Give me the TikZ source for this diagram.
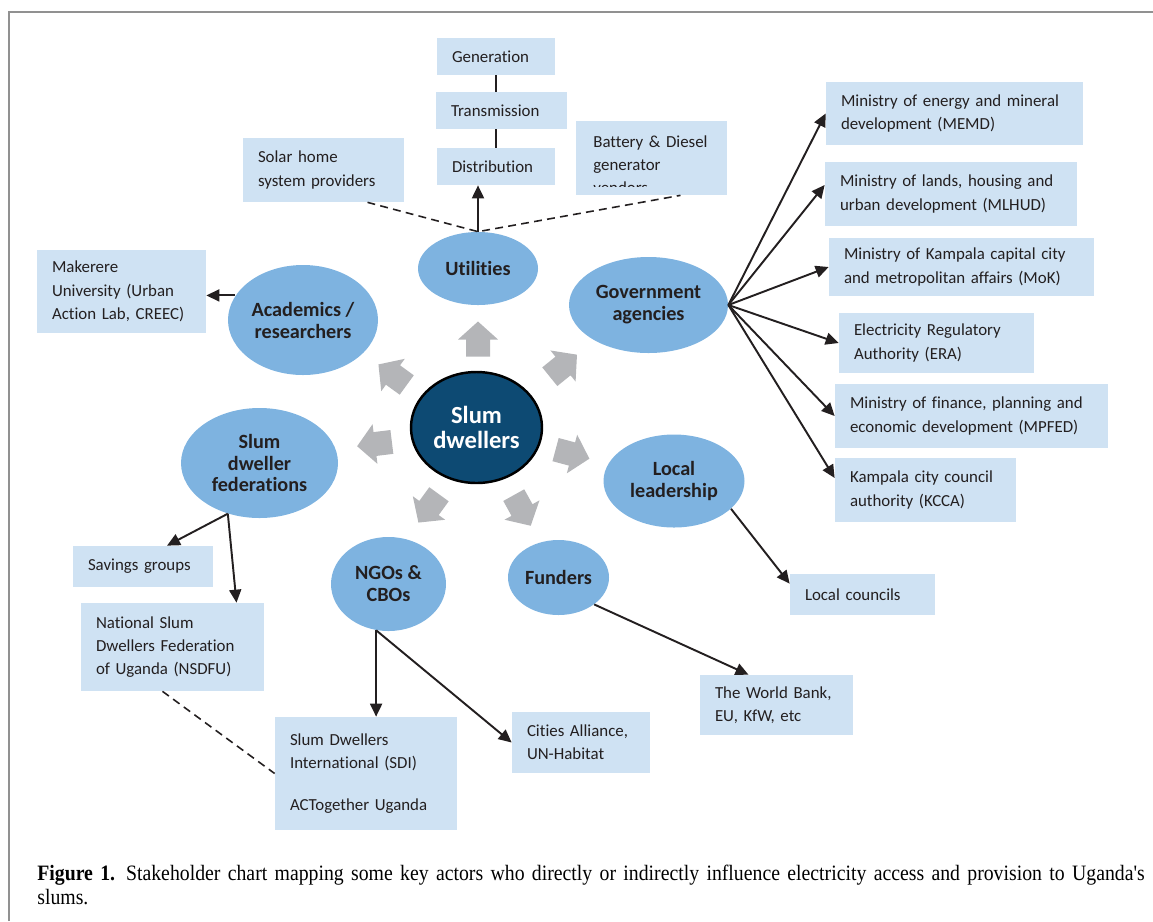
\documentclass[tikz,border=0pt]{standalone}
\usepackage{fontspec}
\setmainfont[Ligatures={TeX,NoCommon}]{Carlito}
\newfontfamily\capfont[FakeStretch=0.9]{Liberation Serif}
\usetikzlibrary{positioning,shapes.geometric,arrows.meta,calc}
\definecolor{boxblue}{RGB}{207,226,243}
\definecolor{ellblue}{RGB}{126,179,224}
\definecolor{slumblue}{RGB}{13,74,115}
\definecolor{arrgray}{RGB}{180,181,184}
\definecolor{inkdark}{RGB}{35,31,32}
\definecolor{framegray}{RGB}{145,145,145}
\newdimen\pxu \pxu=0.02cm

\begin{document}
\begin{tikzpicture}[x=0.02cm, y=-0.02cm,
    actor/.style={fill=boxblue, align=left, inner xsep=15\pxu, inner ysep=0pt,
                  text=inkdark, font=\fontsize{9.6}{13.2}\selectfont},
    group/.style={ellipse, fill=ellblue, inner sep=0pt, align=center,
                  text=inkdark, font=\fontsize{11.5}{12.5}\selectfont\bfseries},
    link/.style={inkdark, line width=1.1pt, -{Triangle[length=0.26cm,width=0.24cm]}},
    tie/.style={inkdark, line width=0.9pt, dash pattern=on 4.5pt off 3pt}
  ]
    \useasboundingbox (0,0) rectangle (1153,921);
    \draw[framegray, line width=1.5\pxu] (9,921) -- (9,12) -- (1153,12);

    % utilities
    \node[actor, text width=88\pxu, minimum height=37\pxu] (gen) at (496,56.5) {Generation};
    \node[actor, text width=101\pxu, minimum height=37\pxu] (trans) at (501.5,110.5) {Transmission};
    \node[actor, text width=88\pxu, minimum height=37\pxu] (dist) at (496,166.5) {Distribution};
    \node[actor, text width=131\pxu, minimum height=64\pxu] (solar) at (323.5,170)
         {Solar home\\system providers};
    \node[fill=boxblue, inner sep=0pt, minimum width=151\pxu, minimum height=74\pxu] (batt) at (651.5,158) {};
    \begin{scope}
      \clip (batt.north west) rectangle ([yshift=9\pxu]batt.south east);
      \node[actor, fill=none, anchor=west, text width=121\pxu, inner xsep=17\pxu] (batttext) at (576,164.5)
           {Battery \& Diesel\\generator\\vendors};
    \end{scope}

    % academics
    \node[actor, text width=139\pxu, minimum height=83\pxu, font=\fontsize{9.6}{13.5}\selectfont] (makerere) at (121.5,291.5)
         {Makerere\\University (Urban\\Action Lab, CREEC)};

    % government
    \node[actor, text width=227\pxu, minimum height=63\pxu] (memd) at (954.5,113.5)
         {Ministry of energy and mineral\\development (MEMD)};
    \node[actor, text width=222\pxu, minimum height=64\pxu] (mlhud) at (951,194)
         {Ministry of lands, housing and\\urban development (MLHUD)};
    \node[actor, text width=235\pxu, minimum height=58\pxu] (mok) at (961.5,267)
         {Ministry of Kampala capital city\\and metropolitan affairs (MoK)};
    \node[actor, text width=165\pxu, minimum height=60\pxu] (era) at (936.5,343)
         {Electricity Regulatory\\Authority (ERA)};
    \node[actor, text width=243\pxu, minimum height=64\pxu] (mpfed) at (971.5,416)
         {Ministry of finance, planning and\\economic development (MPFED)};
    \node[actor, text width=151\pxu, minimum height=64\pxu] (kcca) at (925.5,490)
         {Kampala city council\\authority (KCCA)};

    % local leadership, funders, NGOs
    \node[actor, text width=115\pxu, minimum height=41\pxu] (lc) at (862.5,594.5) {Local councils};
    \node[actor, text width=123\pxu, minimum height=60\pxu] (wb) at (776.5,705)
         {The World Bank,\\EU, KfW, etc};
    \node[actor, text width=108\pxu, minimum height=61\pxu] (cities) at (581,742.5)
         {Cities Alliance,\\UN-Habitat};
    \node[actor, text width=152\pxu, minimum height=113\pxu] (sdi) at (366,773.5)
         {Slum Dwellers\\International (SDI)\\[18\pxu]ACTogether Uganda};

    % federations
    \node[actor, text width=110\pxu, minimum height=41\pxu] (savings) at (143,566.5) {Savings groups};
    \node[actor, text width=153\pxu, minimum height=88\pxu] (nsdfu) at (172.5,647)
         {National Slum\\Dwellers Federation\\of Uganda (NSDFU)};

    % actor groups
    \node[group, minimum width=120\pxu, minimum height=73\pxu] (util) at (478,268.5) {Utilities};
    \node[group, minimum width=150\pxu, minimum height=110\pxu] (acad) at (303,320) {Academics /\\researchers};
    \node[group, minimum width=159\pxu, minimum height=96\pxu] (gov) at (648.5,305) {Government\\agencies};
    \node[group, minimum width=157\pxu, minimum height=110\pxu] (fed) at (259.5,463) {Slum\\dweller\\federations};
    \node[group, minimum width=141\pxu, minimum height=93\pxu] (loc) at (674,481) {Local\\leadership};
    \node[group, minimum width=115\pxu, minimum height=94\pxu] (ngo) at (388.5,584) {NGOs \&\\CBOs};
    \node[group, minimum width=101\pxu, minimum height=75\pxu] (fund) at (558.5,577.5) {Funders};
    \node[group, minimum width=131\pxu, minimum height=111\pxu, fill=slumblue, draw=black,
          line width=1.4pt, text=white, font=\fontsize{14}{14.2}\selectfont\bfseries] (slum) at (476.5,427.5)
         {Slum\\dwellers};

    % gray block arrows round the centre
    \foreach \ang/\ax/\ay in {90/478/339.5, 39/563/366, -15/572/454, -61/522/510,
                              -126/429/508, 187/375/444, 144/393/375}
      \fill[arrgray, shift={(\ax,\ay)}, rotate=\ang]
           (-17,-12) -- (0,-12) -- (0,-20) -- (18,0) -- (0,20) -- (0,12) -- (-17,12) -- cycle;

    % connectors
    \draw[link] (util.north) -- (util.north |- dist.south);
    \draw[inkdark, line width=1.1pt] (gen.south) -- (gen.south |- trans.north);
    \draw[inkdark, line width=1.1pt] (trans.south -| gen.south) -- (dist.north);
    \draw[tie] ([xshift=44\pxu]solar.south) -- (util.north) -- ([xshift=29\pxu]batt.south);
    \draw[link] (acad.160) -- (acad.160 -| makerere.east);
    \foreach \m/\dy in {memd/0, mlhud/9, mok/0, era/0, mpfed/0, kcca/12}
      \draw[link] (gov.east) -- ([yshift=\dy\pxu]\m.west);
    \draw[link] (loc.-26) -- ([yshift=-10\pxu]lc.north west);
    \draw[link] (fund.-37) -- ([xshift=-28\pxu]wb.north);
    \draw[link] (ngo.-105) -- (ngo.-105 |- sdi.north);
    \draw[link] (ngo.-105) -- (cities.west);
    \draw[link] (fed.-122) -- ([xshift=24\pxu]savings.north);
    \draw[link] (fed.-122) -- ([xshift=64\pxu]nsdfu.north);
    \draw[tie] ([xshift=-10\pxu]nsdfu.south) -- (sdi.west);

    \node[anchor=west, inner sep=0pt, align=left, text width=1116\pxu,
          font=\capfont\fontsize{12.5}{13.8}\selectfont] (caption) at (37,885)
         {\textbf{Figure 1.} Stakeholder chart mapping some key actors who directly or indirectly influence electricity access and provision to Uganda's\\slums.};
\end{tikzpicture}
\end{document}
